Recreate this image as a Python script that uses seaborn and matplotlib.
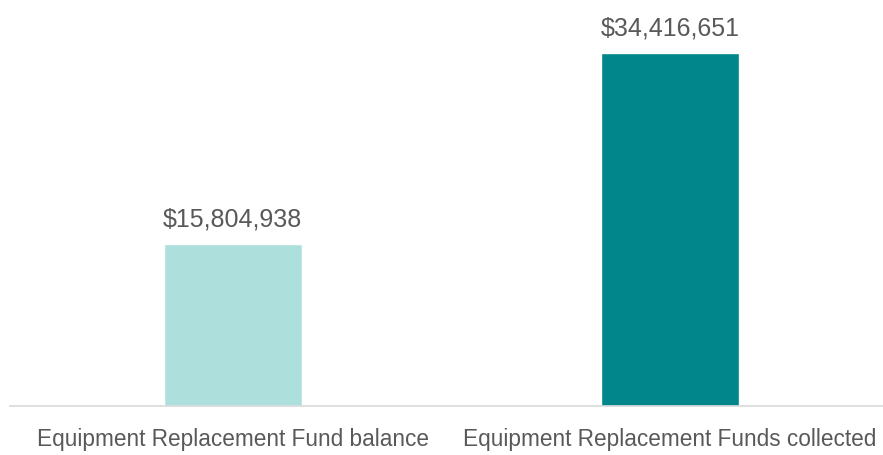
import matplotlib
matplotlib.use("Agg")
import matplotlib.pyplot as plt
import seaborn as sns
import pandas as pd

# Chart data
categories = ["Equipment Replacement Fund balance", "Equipment Replacement Funds collected"]
amounts = [15804938, 34416651]
bar_colors = ["#ade0dc", "#00868b"]

df = pd.DataFrame({"category": categories, "amount": amounts})

sns.set_style("white")
plt.rcParams['font.family'] = ['Liberation Sans', 'DejaVu Sans']

fig = plt.figure(figsize=(8.83, 4.55), dpi=100)
ax = fig.add_axes([0.011, 0.1077, 0.989, 0.8923])

sns.barplot(data=df, x="category", y="amount", hue="category", palette=bar_colors,
            width=0.316, legend=False, ax=ax, saturation=1)

# Value labels above bars
for i, v in enumerate(amounts):
    ax.annotate(f"${v:,}", (i, v), xytext=(0, 9), textcoords="offset points",
                ha="center", va="bottom", fontsize=18, color="#595959")

ax.set_xlim(-0.51, 1.487)
ax.set_ylim(0, 39.58e6)
ax.set_xlabel("")
ax.set_ylabel("")
ax.set_yticks([])
ax.tick_params(axis="x", length=0, labelsize=16.3, labelcolor="#595959", pad=16)

for side in ["top", "left", "right"]:
    ax.spines[side].set_visible(False)
ax.spines["bottom"].set_color("#d9d9d9")
ax.spines["bottom"].set_linewidth(1.2)

fig.savefig("out.png", dpi=100)
